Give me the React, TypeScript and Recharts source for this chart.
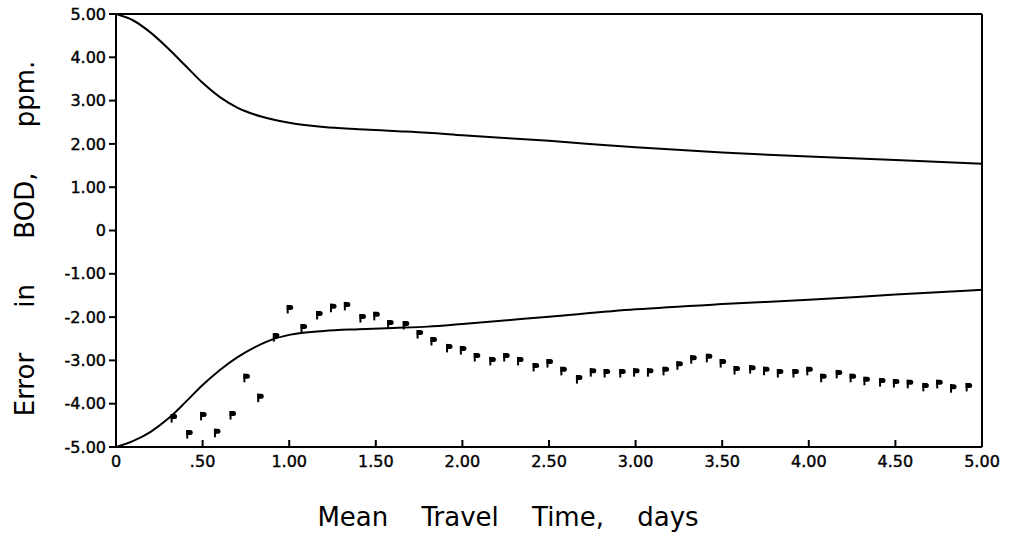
import React from "react";
import {
  ComposedChart,
  Line,
  Scatter,
  XAxis,
  YAxis,
  ReferenceLine,
} from "recharts";

// mean travel time (days) for the two bounding curves
const curveTimes = [
  0, 0.1, 0.2, 0.3, 0.4, 0.5, 0.6, 0.7, 0.8, 0.9, 1.0, 1.2, 1.4, 1.6, 1.8, 2.0,
  2.5, 3.0, 3.5, 4.0, 4.5, 5.0,
];
const upperBound = [
  5.0, 4.85, 4.57, 4.21, 3.81, 3.41, 3.08, 2.84, 2.68, 2.57, 2.49, 2.39, 2.34,
  2.3, 2.26, 2.2, 2.07, 1.92, 1.8, 1.71, 1.63, 1.54,
];
const lowerBound = [
  -5.0, -4.86, -4.65, -4.35, -3.97, -3.57, -3.22, -2.93, -2.7, -2.52, -2.41,
  -2.32, -2.28, -2.25, -2.22, -2.16, -1.99, -1.82, -1.7, -1.6, -1.48, -1.37,
];

// plotted "P" points
const pointTimes = [
  0.33, 0.42, 0.5, 0.58, 0.67, 0.75, 0.83, 0.92, 1.0, 1.08, 1.17, 1.25, 1.33,
  1.42, 1.5, 1.58, 1.67, 1.75, 1.83, 1.92, 2.0, 2.08, 2.17, 2.25, 2.33, 2.42,
  2.5, 2.58, 2.67, 2.75, 2.83, 2.92, 3.0, 3.08, 3.17, 3.25, 3.33, 3.42, 3.5,
  3.58, 3.67, 3.75, 3.83, 3.92, 4.0, 4.08, 4.17, 4.25, 4.33, 4.42, 4.5, 4.58,
  4.67, 4.75, 4.83, 4.92,
];
const pointErrors = [
  -4.32, -4.69, -4.27, -4.66, -4.25, -3.39, -3.85, -2.45, -1.8, -2.24, -1.94,
  -1.77, -1.73, -2.01, -1.96, -2.15, -2.17, -2.38, -2.54, -2.7, -2.75, -2.91,
  -3.0, -2.91, -3.0, -3.14, -3.05, -3.23, -3.42, -3.26, -3.28, -3.28, -3.26,
  -3.26, -3.23, -3.1, -2.96, -2.93, -3.05, -3.21, -3.19, -3.23, -3.28, -3.28,
  -3.23, -3.39, -3.3, -3.39, -3.46, -3.49, -3.51, -3.53, -3.6, -3.53, -3.63,
  -3.6,
];

const xTicks = [0, 0.5, 1, 1.5, 2, 2.5, 3, 3.5, 4, 4.5, 5];
const yTicks = [5, 4, 3, 2, 1, 0, -1, -2, -3, -4, -5];

const upperData = curveTimes.map((t, i) => ({ t, v: upperBound[i] }));
const lowerData = curveTimes.map((t, i) => ({ t, v: lowerBound[i] }));
const pointData = pointTimes.map((t, i) => ({ t, v: pointErrors[i] }));

const INK = "#000";
const FONT = "'DejaVu Sans', sans-serif";
const X_TICK_GAP = 8;

const fmtY = (v: number) => (v === 0 ? "0" : v.toFixed(2));
const fmtX = (v: number) =>
  v === 0 ? "0" : v < 1 ? v.toFixed(2).slice(1) : v.toFixed(2);

function XTick(props: any) {
  const { x, y, payload } = props;
  const axisY = y - X_TICK_GAP;
  return (
    <g>
      <line x1={x} x2={x} y1={axisY} y2={axisY - 7} stroke={INK} strokeWidth={2} />
      <text
        x={x}
        y={y}
        dy="0.75em"
        textAnchor="middle"
        fontFamily={FONT}
        fontSize={16}
        fill={INK}
        stroke={INK}
        strokeWidth={0.4}
      >
        {fmtX(payload.value)}
      </text>
    </g>
  );
}

function PMarker(props: any) {
  const { cx, cy } = props;
  if (cx == null || cy == null) return null;
  return (
    <g>
      <path
        d={`M${cx - 2.5},${cy - 3.5} L${cx + 1.5},${cy - 3.5} Q${cx + 4},${cy - 3.5} ${cx + 4},${cy - 1} Q${cx + 4},${cy + 1.5} ${cx + 1.5},${cy + 1.5} L${cx - 2.5},${cy + 1.5} Z`}
        fill={INK}
      />
      <line x1={cx - 1.5} x2={cx - 1.5} y1={cy - 3.5} y2={cy + 5} stroke={INK} strokeWidth={2} />
    </g>
  );
}

export default function App() {
  return (
    <div style={{ position: "absolute", left: 0, top: 0, background: "#fff" }}>
      <ComposedChart
        width={1018}
        height={535}
        margin={{ top: 14, right: 36, bottom: 0, left: 0 }}
      >
        <XAxis
          dataKey="t"
          type="number"
          domain={[0, 5]}
          ticks={xTicks}
          allowDataOverflow
          height={88}
          axisLine={{ stroke: INK, strokeWidth: 2 }}
          tickLine={false}
          tickSize={0}
          tickMargin={X_TICK_GAP}
          tick={<XTick />}
          interval={0}
          label={{
            content: ({ viewBox }: any) => (
              <text
                x={viewBox.x + viewBox.width / 2 - 41}
                y={viewBox.y + 79}
                textAnchor="middle"
                fontFamily={FONT}
                fontSize={26}
                fill={INK}
                style={{ wordSpacing: 25 }}
              >
                Mean Travel Time, days
              </text>
            ),
          }}
        />
        <YAxis
          dataKey="v"
          type="number"
          domain={[-5, 5]}
          ticks={yTicks}
          allowDataOverflow
          width={116}
          interval={0}
          axisLine={{ stroke: INK, strokeWidth: 2 }}
          tickLine={{ stroke: INK, strokeWidth: 2 }}
          tickSize={7}
          tickMargin={3}
          tickFormatter={fmtY}
          tick={{ fill: INK, stroke: INK, strokeWidth: 0.4, fontFamily: FONT, fontSize: 16 }}
          label={{
            content: ({ viewBox }: any) => {
              const cx = viewBox.x + 34;
              const cy = viewBox.y + viewBox.height / 2 + 8;
              return (
                <text
                  x={cx}
                  y={cy}
                  transform={`rotate(-90 ${cx} ${cy})`}
                  textAnchor="middle"
                  fontFamily={FONT}
                  fontSize={26}
                  fill={INK}
                  style={{ wordSpacing: 37 }}
                >
                  Error in BOD, ppm.
                </text>
              );
            },
          }}
        />
        <ReferenceLine y={5} stroke={INK} strokeWidth={2} />
        <ReferenceLine x={5} stroke={INK} strokeWidth={2} />
        <Line
          data={upperData}
          dataKey="v"
          type="monotone"
          stroke={INK}
          strokeWidth={2}
          dot={false}
          activeDot={false}
          isAnimationActive={false}
        />
        <Line
          data={lowerData}
          dataKey="v"
          type="monotone"
          stroke={INK}
          strokeWidth={2}
          dot={false}
          activeDot={false}
          isAnimationActive={false}
        />
        <Scatter
          data={pointData}
          dataKey="v"
          shape={<PMarker />}
          isAnimationActive={false}
        />
      </ComposedChart>
    </div>
  );
}
